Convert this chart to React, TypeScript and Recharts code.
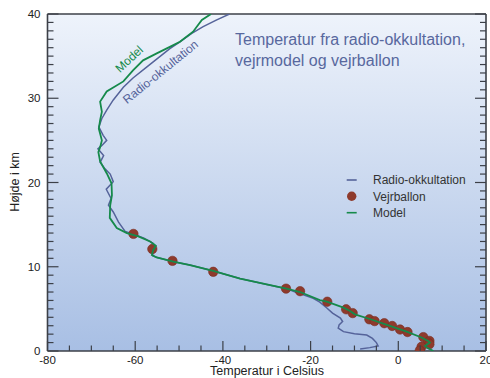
import React from 'react'
import { ScatterChart, Scatter, XAxis, YAxis, Legend, CartesianGrid } from 'recharts'

// Radio-okkultation profile (temperature °C, altitude km), top to bottom
const radioTemp = [
  -38.5, -41.4, -44.5, -47.1, -49.8, -52.1, -57.4, -60.5, -62.7, -65.0,
  -66.5, -67.6, -68.3, -67.3, -66.5, -67.6, -68.5, -67.2, -68.0, -67.0,
  -65.7, -65.0, -66.6, -65.5, -66.1, -65.0, -63.8, -62.3, -60.5, -58.0,
  -56.0, -55.3, -56.0, -56.0, -55.0, -51.3, -47.5, -42.2, -36.1, -30.0,
  -25.5, -23.5, -21.5, -19.4, -17.9, -16.3, -15.0, -13.2, -12.7, -13.5,
  -13.7, -12.5, -10.0, -7.2, -5.9, -5.0, -4.6, -6.5, -8.7,
]
const radioAlt = [
  40, 39.3, 38.5, 37.7, 36.7, 35.9, 33.7, 32.4, 31.3, 29.8,
  28.6, 27.6, 26.6, 25.6, 25.0, 24.4, 24.0, 23.2, 22.4, 21.7,
  21.0, 20.1, 19.2, 18.1, 17.3, 16.5, 15.3, 14.2, 13.9, 13.4,
  12.8, 12.4, 11.9, 11.3, 11.1, 10.6, 10.2, 9.5, 8.6, 7.9,
  7.4, 7.0, 6.65, 6.25, 5.8, 5.1, 4.5, 3.9, 3.5, 3.1,
  2.7, 2.3, 2.05, 1.9, 1.5, 1.0, 0.6, 0.4, 0.24,
]

// Vejrmodel profile
const modelTemp = [
  -42.7, -44.8, -46.8, -49.8, -52.1, -55.2, -58.2, -60.5, -62.7, -66.5,
  -68.0, -67.6, -68.0, -68.3, -67.6, -68.0, -68.4, -68.0, -66.5, -65.4,
  -65.3, -65.7, -65.8, -64.2, -61.9, -59.3, -56.6, -55.3, -55.9, -56.2,
  -55.1, -51.3, -47.5, -42.2, -36.1, -30.0, -25.5, -22.4, -17.9, -16.3,
  -12.5, -11.0, -9.9, -6.5, -2.6, 1.9, 5.3, 6.8, 7.2, 6.1,
  6.5, 8.0,
]
const modelAlt = [
  40, 39.3, 37.9, 36.7, 36.1, 35.3, 34.5, 33.3, 32.0, 30.8,
  29.6, 28.4, 27.4, 26.4, 25.0, 24.2, 23.6, 22.5, 21.1, 19.9,
  18.5, 17.3, 15.8, 14.6, 14.0, 13.6, 13.0, 12.5, 12.0, 11.4,
  11.1, 10.6, 10.2, 9.5, 8.6, 7.9, 7.4, 7.0, 6.05, 5.85,
  5.15, 4.75, 4.35, 3.8, 3.1, 2.3, 1.6, 1.2, 1.0, 0.6,
  0.4, 0.0,
]

// Vejrballon measurements
const balloonTemp = [
  -60.4, -56.1, -51.5, -42.2, -25.6, -22.4, -16.2, -11.9, -10.4, -6.6,
  -5.4, -3.2, -1.4, 0.4, 2.1, 5.7, 7.1, 6.8, 7.1, 5.3, 4.9,
]
const balloonAlt = [
  13.9, 12.1, 10.7, 9.4, 7.4, 7.1, 5.85, 4.95, 4.5, 3.76,
  3.55, 3.3, 2.97, 2.55, 2.25, 1.65, 1.2, 1.0, 0.8, 0.5, 0.05,
]

const xTicks = [-80, -75, -70, -65, -60, -55, -50, -45, -40, -35, -30, -25, -20, -15, -10, -5, 0, 5, 10, 15, 20]
const yTicks = [
  0, 1, 2, 3, 4, 5, 6, 7, 8, 9, 10, 11, 12, 13, 14, 15, 16, 17, 18, 19, 20,
  21, 22, 23, 24, 25, 26, 27, 28, 29, 30, 31, 32, 33, 34, 35, 36, 37, 38, 39, 40,
]

const FONT = '"Liberation Sans", Arial, sans-serif'
const AXIS = '#3c4048'
const RADIO = '#55639a'
const MODEL = '#168a4b'
const BALLOON = '#8e3a2c'
const TITLE = '#58689e'

const toPoints = (ts: number[], hs: number[]) => ts.map((t, i) => ({ t, h: hs[i] }))

const radioData = toPoints(radioTemp, radioAlt)
const modelData = toPoints(modelTemp, modelAlt)
const balloonData = toPoints(balloonTemp, balloonAlt)

const noShape = () => <g />

const balloonShape = (p: any) => (
  <circle cx={p.cx} cy={p.cy} r={4.7} fill={BALLOON} stroke='#7a2e22' strokeWidth={0.6} />
)

const bottomTick = (p: any) => {
  const v = p.payload.value
  const major = v % 20 === 0
  return (
    <g>
      <line x1={p.x} x2={p.x} y1={p.y} y2={p.y - (major ? 10 : 5.5)} stroke={AXIS} strokeWidth={1.2} />
      {major && (
        <text x={p.x} y={p.y + 12.5} textAnchor='middle' fontSize={11.5} fontFamily={FONT} fill='#222'>
          {v}
        </text>
      )}
    </g>
  )
}

const topTick = (p: any) => {
  const major = p.payload.value % 20 === 0
  return <line x1={p.x} x2={p.x} y1={p.y} y2={p.y + (major ? 10 : 5.5)} stroke={AXIS} strokeWidth={1.2} />
}

const leftTick = (p: any) => {
  const v = p.payload.value
  const major = v % 10 === 0
  return (
    <g>
      <line x1={p.x} x2={p.x + (major ? 11 : 6)} y1={p.y} y2={p.y} stroke={AXIS} strokeWidth={1.2} />
      {major && (
        <text x={p.x - 7} y={p.y + (v === 0 ? 3.5 : 4.2)} textAnchor='end' fontSize={11.5} fontFamily={FONT} fill='#222'>
          {v}
        </text>
      )}
    </g>
  )
}

const rightTick = (p: any) => {
  const major = p.payload.value % 10 === 0
  return <line x1={p.x} x2={p.x - (major ? 11 : 6)} y1={p.y} y2={p.y} stroke={AXIS} strokeWidth={1.2} />
}

const legendContent = () => (
  <svg width={150} height={56} style={{ display: 'block' }}>
    <line x1={6.7} x2={16.7} y1={10} y2={10} stroke={RADIO} strokeWidth={1.6} />
    <text x={33} y={14.2} fontSize={12} fontFamily={FONT} fill='#333'>Radio-okkultation</text>
    <circle cx={11.7} cy={26.3} r={4.7} fill={BALLOON} />
    <text x={33} y={30.5} fontSize={12} fontFamily={FONT} fill='#333'>Vejrballon</text>
    <line x1={6.7} x2={16.7} y1={42.7} y2={42.7} stroke={MODEL} strokeWidth={1.6} />
    <text x={33} y={46.9} fontSize={12} fontFamily={FONT} fill='#333'>Model</text>
  </svg>
)

export default function App() {
  return (
    <div style={{ position: 'absolute', left: 0, top: 0, width: 490, height: 378, background: '#fff' }}>
      <ScatterChart width={490} height={378} margin={{ top: 0, right: 0, bottom: 0, left: 0 }}>
        <defs>
          <linearGradient id='bg' x1='0' y1='0' x2='0' y2='1'>
            <stop offset='0%' stopColor='#eef3fb' />
            <stop offset='100%' stopColor='#a8bfe4' />
          </linearGradient>
        </defs>
        <CartesianGrid
          xAxisId='bottom'
          yAxisId='left'
          horizontal={false}
          vertical={false}
          fill='url(#bg)'
          fillOpacity={1}
          stroke='none'
        />
        <XAxis
          xAxisId='bottom'
          type='number'
          dataKey='t'
          domain={[-80, 20]}
          ticks={xTicks}
          interval={0}
          allowDataOverflow
          height={27}
          tickSize={0}
          tickMargin={0}
          tickLine={false}
          tick={bottomTick}
          axisLine={{ stroke: AXIS, strokeWidth: 1.6 }}
        />
        <XAxis
          xAxisId='top'
          orientation='top'
          type='number'
          domain={[-80, 20]}
          ticks={xTicks}
          interval={0}
          allowDataOverflow
          height={14}
          tickSize={0}
          tickMargin={0}
          tickLine={false}
          tick={topTick}
          axisLine={{ stroke: AXIS, strokeWidth: 1.6 }}
        />
        <YAxis
          yAxisId='left'
          type='number'
          dataKey='h'
          domain={[0, 40]}
          ticks={yTicks}
          interval={0}
          allowDataOverflow
          width={47.5}
          tickSize={0}
          tickMargin={0}
          tickLine={false}
          tick={leftTick}
          axisLine={{ stroke: AXIS, strokeWidth: 1.6 }}
        />
        <YAxis
          yAxisId='right'
          orientation='right'
          type='number'
          domain={[0, 40]}
          ticks={yTicks}
          interval={0}
          allowDataOverflow
          width={4}
          tickSize={0}
          tickMargin={0}
          tickLine={false}
          tick={rightTick}
          axisLine={{ stroke: AXIS, strokeWidth: 1.6 }}
        />
        <Legend
          layout='vertical'
          align='center'
          verticalAlign='middle'
          content={legendContent}
          wrapperStyle={{ left: 340, top: 170, width: 150, height: 56 }}
        />
        <Scatter
          name='Radio-okkultation'
          xAxisId='bottom'
          yAxisId='left'
          data={radioData}
          line={{ stroke: RADIO, strokeWidth: 1.5 }}
          shape={noShape}
          legendType='line'
          isAnimationActive={false}
        />
        <Scatter
          name='Vejrballon'
          xAxisId='bottom'
          yAxisId='left'
          data={balloonData}
          shape={balloonShape}
          isAnimationActive={false}
        />
        <Scatter
          name='Model'
          xAxisId='bottom'
          yAxisId='left'
          data={modelData}
          line={{ stroke: MODEL, strokeWidth: 1.8 }}
          shape={noShape}
          legendType='line'
          isAnimationActive={false}
        />
      </ScatterChart>
      <svg
        width={490}
        height={378}
        style={{ position: 'absolute', left: 0, top: 0, pointerEvents: 'none' }}
      >
        <text x={235} y={45} fontSize={16} fontFamily={FONT} fill={TITLE}>Temperatur fra radio-okkultation,</text>
        <text x={235} y={66} fontSize={16} fontFamily={FONT} fill={TITLE}>vejrmodel og vejrballon</text>
        <text x={132} y={62} fontSize={12} fontFamily={FONT} fill={MODEL} textAnchor='middle' transform='rotate(-43 132 62)'>Model</text>
        <text x={163} y={75} fontSize={12} fontFamily={FONT} fill={RADIO} textAnchor='middle' transform='rotate(-39 163 75)'>Radio-okkultation</text>
        <text x={19} y={182} fontSize={12.5} fontFamily={FONT} fill='#222' textAnchor='middle' transform='rotate(-90 19 182)'>Højde i km</text>
        <text x={267} y={375} fontSize={12.5} fontFamily={FONT} fill='#222' textAnchor='middle'>Temperatur i Celsius</text>
      </svg>
    </div>
  )
}
